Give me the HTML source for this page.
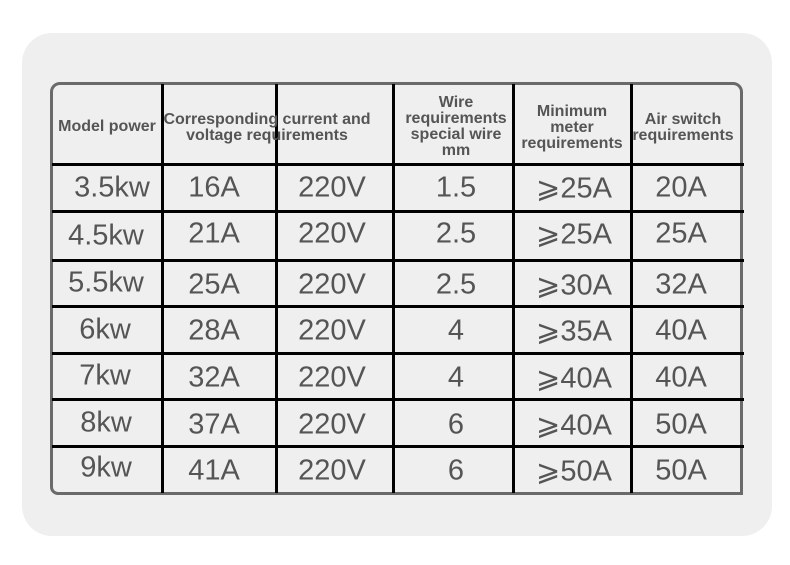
<!DOCTYPE html>
<html><head><meta charset="utf-8"><style>
body{margin:0;width:790px;height:565px;background:#fff;position:relative;overflow:hidden;font-family:"Liberation Sans","DejaVu Sans",sans-serif;}
.card{position:absolute;left:22px;top:33px;width:750px;height:503px;background:#efefef;border-radius:30px;}
.tbl{position:absolute;left:50px;top:82px;width:687px;height:407px;border:3px solid #6a6a6a;border-radius:10px 10px 0 8px;}
.v{position:absolute;width:3px;background:#000;top:84px;height:409px;}
.h{position:absolute;height:3px;background:#000;left:52px;width:692px;}
.t{position:absolute;transform:translate(-50%,-50%);color:#555;font-size:29px;white-space:nowrap;}
.hd{position:absolute;transform:translate(-50%,-50%);color:#555;font-size:16px;font-weight:bold;text-align:center;line-height:16px;white-space:nowrap;}
</style></head><body>
<div class="card"></div>
<div class="tbl"></div>
<div class="v" style="left:161px"></div>
<div class="v" style="left:275px"></div>
<div class="v" style="left:392px"></div>
<div class="v" style="left:512px"></div>
<div class="v" style="left:630px"></div>
<div class="h" style="top:163px"></div>
<div class="h" style="top:210px"></div>
<div class="h" style="top:259px"></div>
<div class="h" style="top:305px"></div>
<div class="h" style="top:352px"></div>
<div class="h" style="top:398px"></div>
<div class="h" style="top:445px"></div>
<div class="hd" style="left:107px;top:127px">Model power</div>
<div class="hd" style="left:267px;top:128px">Corresponding current and<br>voltage requirements</div>
<div class="hd" style="left:456px;top:127px">Wire<br>requirements<br>special wire<br>mm</div>
<div class="hd" style="left:572px;top:128px">Minimum<br>meter<br>requirements</div>
<div class="hd" style="left:683px;top:128px">Air switch<br>requirements</div>
<div class="t" style="left:112px;top:188px">3.5kw</div><div class="t" style="left:214px;top:188px">16A</div><div class="t" style="left:332px;top:188px">220V</div><div class="t" style="left:456px;top:188px">1.5</div><div class="t" style="left:574px;top:188px">⩾25A</div><div class="t" style="left:681px;top:188px">20A</div>
<div class="t" style="left:106px;top:236px">4.5kw</div><div class="t" style="left:214px;top:234px">21A</div><div class="t" style="left:332px;top:234px">220V</div><div class="t" style="left:456px;top:234px">2.5</div><div class="t" style="left:574px;top:234px">⩾25A</div><div class="t" style="left:681px;top:234px">25A</div>
<div class="t" style="left:106px;top:283px">5.5kw</div><div class="t" style="left:214px;top:285px">25A</div><div class="t" style="left:332px;top:285px">220V</div><div class="t" style="left:456px;top:285px">2.5</div><div class="t" style="left:574px;top:285px">⩾30A</div><div class="t" style="left:681px;top:285px">32A</div>
<div class="t" style="left:105px;top:330px">6kw</div><div class="t" style="left:214px;top:331px">28A</div><div class="t" style="left:332px;top:331px">220V</div><div class="t" style="left:456px;top:331px">4</div><div class="t" style="left:574px;top:331px">⩾35A</div><div class="t" style="left:681px;top:331px">40A</div>
<div class="t" style="left:105px;top:376px">7kw</div><div class="t" style="left:214px;top:378px">32A</div><div class="t" style="left:332px;top:378px">220V</div><div class="t" style="left:456px;top:378px">4</div><div class="t" style="left:574px;top:378px">⩾40A</div><div class="t" style="left:681px;top:378px">40A</div>
<div class="t" style="left:106px;top:423px">8kw</div><div class="t" style="left:214px;top:425px">37A</div><div class="t" style="left:332px;top:425px">220V</div><div class="t" style="left:456px;top:425px">6</div><div class="t" style="left:574px;top:425px">⩾40A</div><div class="t" style="left:681px;top:425px">50A</div>
<div class="t" style="left:106px;top:468px">9kw</div><div class="t" style="left:214px;top:471px">41A</div><div class="t" style="left:332px;top:471px">220V</div><div class="t" style="left:456px;top:471px">6</div><div class="t" style="left:574px;top:471px">⩾50A</div><div class="t" style="left:681px;top:471px">50A</div>
</body></html>
